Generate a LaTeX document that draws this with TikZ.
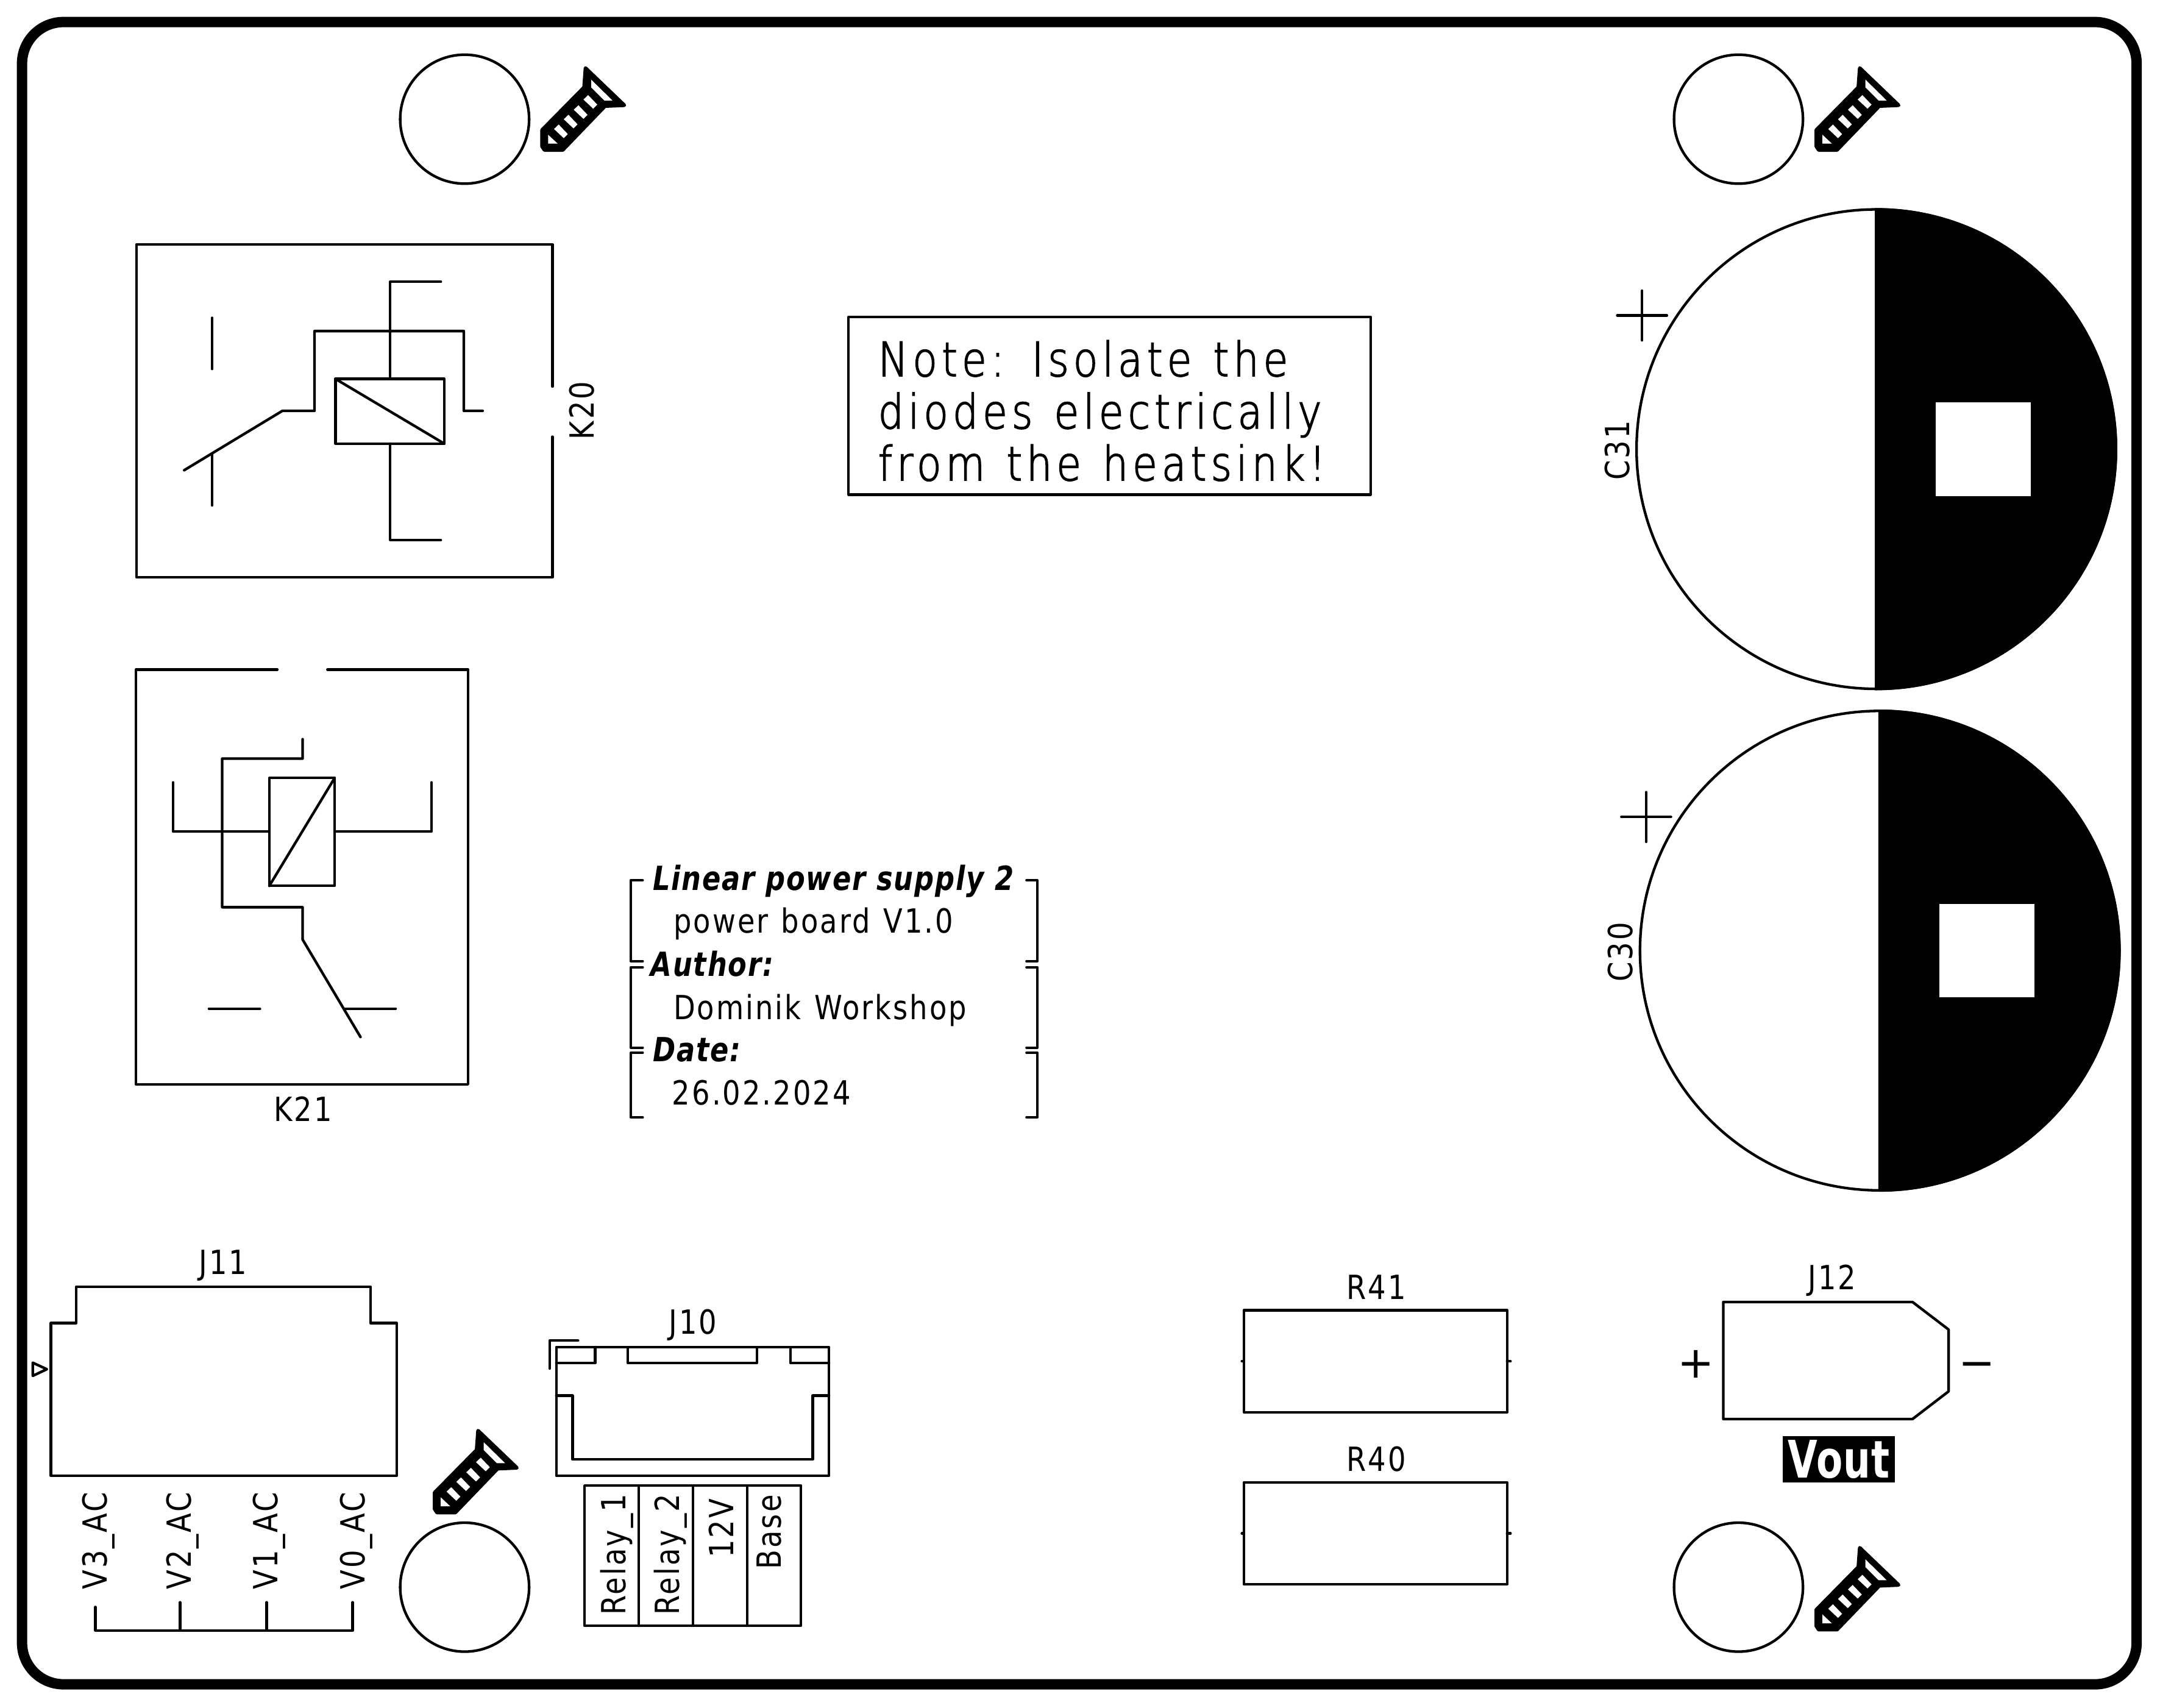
\documentclass[tikz,border=0pt]{standalone}
\usepackage{fontspec}
\newfontfamily\kcreg[FakeStretch=0.85,LetterSpace=5.5,WordSpace=1.2]{DejaVu Sans}
\newfontfamily\kcnote[FakeStretch=0.85,LetterSpace=9.3,WordSpace=1.25,FakeBold=2]{DejaVu Sans ExtraLight}
\newfontfamily\kcbold[FakeStretch=0.82,LetterSpace=3.2,WordSpace=1.05]{DejaVu Sans}
\newfontfamily\kcvout[FakeStretch=0.74,LetterSpace=1.5]{DejaVu Sans}
\newfontfamily\kcsign{DejaVu Sans}
\newcommand{\screwicon}[3]{%
  \begin{scope}[shift={(283.16+#2,26.55+#3)},scale=0.14748]
    \path[screwbody] (962,155) -- (1153,338) -- (1058,342) -- (850,558) -- (760,558) -- (748,540) -- (748,460) -- (955,250) -- cycle;
    \fill[white] (990,212) -- (1095,315) -- (1055,315) -- (990,250) -- cycle;
    \fill[white] (778,483) -- (825,527) -- (778,527) -- cycle;
    \foreach \cx/\cy in {985/320,937/370,888/417,840/465}{
      \fill[white] (\cx-10,\cy-32) -- (\cx+35,\cy+15) -- (\cx+15,\cy+35) -- (\cx-33,\cy-10) -- cycle;
    }
  \end{scope}%
}
\tikzset{
  silk/.style={draw=black,line width=4.3pt,line cap=round,line join=round},
  screwbody/.style={fill=black,draw=black,line width=6pt,line join=round},
  lbl/.style={inner sep=0pt,outer sep=0pt,font=\kcreg\fontsize{54.6}{60}\selectfont},
  blbl/.style={inner sep=0pt,outer sep=0pt,font=\kcbold\fontsize{54.6}{60}\selectfont\bfseries\itshape},
  notelbl/.style={inner sep=0pt,outer sep=0pt,font=\kcnote\fontsize{77.6}{84}\selectfont},
  signlbl/.style={inner sep=0pt,outer sep=0pt,font=\kcsign\fontsize{72}{80}\selectfont},
  vlbl/.style={rotate=90,anchor=base east},
}
\begin{document}
\begin{tikzpicture}[x=2.26020pt,y=-2.26020pt]
\fill[white] (0,0) rectangle (1568,1239.27);
\useasboundingbox (0,0) rectangle (1568,1239.27);
% board outline
\draw[black,line width=17pt,rounded corners=68pt] (16,16) rectangle (1551,1222.5);
% mounting holes
\foreach \hx/\hy in {337.3/86.5,1262/86.5,337.3/1152,1262/1152}{
  \draw[silk] (\hx,\hy) circle (46.8);
}
\screwicon{a}{0}{0}
\screwicon{b}{925}{0}
\screwicon{c}{-78}{989}
\screwicon{d}{925}{1074}
% K20
\draw[silk] (401,280.5) -- (401,177.5) -- (99,177.5) -- (99,419) -- (401,419) -- (401,317);
\draw[silk] (243.5,275) rectangle (322.5,322);
\draw[silk] (243.5,275) -- (322.5,322);
\draw[silk] (320,204.5) -- (283.3,204.5) -- (283.3,275);
\draw[silk] (283.3,322) -- (283.3,392) -- (320,392);
\draw[silk] (133.7,341.3) -- (205,298.2) -- (228.3,298.2) -- (228.3,240.3) -- (336.7,240.3) -- (336.7,298.2) -- (350.4,298.2);
\draw[silk] (154,230.7) -- (154,267.8);
\draw[silk] (154,329.6) -- (154,366.8);
\node[lbl,rotate=90,anchor=base] (k20) at (431,298) {K20};
% K21
\draw[silk] (201.3,486) -- (98.7,486) -- (98.7,787) -- (339.7,787) -- (339.7,486) -- (237.7,486);
\draw[silk] (195.5,564.7) rectangle (242.9,643);
\draw[silk] (195.5,643) -- (242.9,564.7);
\draw[silk] (125.6,567.9) -- (125.6,603.5) -- (195.5,603.5);
\draw[silk] (242.9,603.5) -- (313.2,603.5) -- (313.2,567.9);
\draw[silk] (219.7,536.5) -- (219.7,550.6) -- (161.3,550.6) -- (161.3,658.5) -- (219.7,658.5) -- (219.7,682) -- (261.7,752.7);
\draw[silk] (151.7,732.2) -- (188.7,732.2);
\draw[silk] (250,732.2) -- (287.2,732.2);
\node[lbl,anchor=base] (k21) at (220,814) {K21};
% note
\draw[silk] (616,230) rectangle (995,359);
\node[notelbl,anchor=base west] (note1) at (637.5,273) {Note: Isolate the};
\node[notelbl,anchor=base west] (note2) at (637.5,311) {diodes electrically};
\node[notelbl,anchor=base west] (note3) at (637.5,348.7) {from the heatsink!};
% title block
\draw[silk] (466.5,639) -- (458,639) -- (458,697.7) -- (466.5,697.7);
\draw[silk] (466.5,702.1) -- (458,702.1) -- (458,760.4) -- (466.5,760.4);
\draw[silk] (466.5,764.1) -- (458,764.1) -- (458,811) -- (466.5,811);
\draw[silk] (745.2,639) -- (753,639) -- (753,697.7) -- (745.2,697.7);
\draw[silk] (745.2,702.1) -- (753,702.1) -- (753,760.4) -- (745.2,760.4);
\draw[silk] (745.2,764.1) -- (753,764.1) -- (753,811) -- (745.2,811);
\node[blbl,anchor=base west] (t1) at (474,646.3) {Linear power supply 2};
\node[lbl,anchor=base west] (t2) at (489,677.2) {power board V1.0};
\node[blbl,anchor=base west] (t3) at (472.5,708.6) {Author:};
\node[lbl,anchor=base west] (t4) at (489,739.9) {Dominik Workshop};
\node[blbl,anchor=base west] (t5) at (474,770.7) {Date:};
\node[lbl,anchor=base west] (t6) at (488,802) {26.02.2024};
% capacitors
\draw[silk] (1362,326) circle (174);
\begin{scope}
  \clip (1361,140) rectangle (1560,512);
  \fill[black] (1362,326) circle (175);
\end{scope}
\fill[white] (1405,292) rectangle (1474,360);
\draw[silk] (1174,229) -- (1210,229);
\draw[silk] (1192,211) -- (1192,247);
\node[lbl,rotate=90,anchor=base] (c31) at (1183,327) {C31};
\draw[silk] (1364.5,690) circle (174);
\begin{scope}
  \clip (1363.5,504) rectangle (1560,876);
  \fill[black] (1364.5,690) circle (175);
\end{scope}
\fill[white] (1408,656) rectangle (1477,724);
\draw[silk] (1177,593) -- (1213,593);
\draw[silk] (1195,575) -- (1195,611);
\node[lbl,rotate=90,anchor=base] (c30) at (1185,691) {C30};
% J11
\draw[silk] (37,960.3) -- (55.3,960.3) -- (55.3,934) -- (269,934) -- (269,960.3) -- (288,960.3) -- (288,1071) -- (37,1071) -- cycle;
\draw[silk] (23.8,989.1) -- (34,993.8) -- (23.8,998.6) -- cycle;
\node[lbl,anchor=base] (j11) at (162,925) {J11};
\node[lbl,vlbl] (v3) at (77.6,1083) {V3\_AC};
\node[lbl,vlbl] (v2) at (138.6,1083) {V2\_AC};
\node[lbl,vlbl] (v1) at (201.4,1083) {V1\_AC};
\node[lbl,vlbl] (v0) at (264.9,1083) {V0\_AC};
\draw[silk] (69.3,1166.4) -- (69.3,1183.4) -- (256,1183.4) -- (256,1163);
\draw[silk] (130.7,1163) -- (130.7,1183.4);
\draw[silk] (193.5,1163) -- (193.5,1183.4);
% J10
\draw[silk] (403.8,977.8) rectangle (601.8,1071.2);
\draw[silk] (399,993.3) -- (399,973) -- (419.6,973);
\draw[silk] (403.8,989.3) -- (432.1,989.3) -- (432.1,977.8);
\draw[silk] (455.7,977.8) -- (455.7,989.3) -- (549.4,989.3) -- (549.4,977.8);
\draw[silk] (573.7,977.8) -- (573.7,989.3) -- (601.8,989.3);
\draw[silk] (403.8,1013) -- (415.6,1013) -- (415.6,1059.3) -- (590,1059.3) -- (590,1013) -- (601.8,1013);
\node[lbl,anchor=base] (j10) at (503,968.3) {J10};
\draw[silk] (424.4,1078.3) rectangle (581.4,1180);
\draw[silk] (463.8,1078.3) -- (463.8,1180);
\draw[silk] (503,1078.3) -- (503,1180);
\draw[silk] (542.3,1078.3) -- (542.3,1180);
\node[lbl,vlbl] (p1) at (454.2,1084.5) {Relay\_1};
\node[lbl,vlbl] (p2) at (493.3,1084.5) {Relay\_2};
\node[lbl,vlbl] (p3) at (532.4,1088) {12V};
\node[lbl,vlbl] (p4) at (567,1085) {Base};
% R41 R40
\draw[silk] (903,951) rectangle (1094,1025);
\draw[silk] (901.5,988) -- (903,988);
\draw[silk] (1094,988) -- (1096.5,988);
\node[lbl,anchor=base] (r41) at (999,943) {R41};
\draw[silk] (903,1076) rectangle (1094,1150);
\draw[silk] (901.5,1113) -- (903,1113);
\draw[silk] (1094,1113) -- (1096.5,1113);
\node[lbl,anchor=base] (r40) at (999,1068) {R40};
% J12
\draw[silk] (1251,945) -- (1388.3,945) -- (1414.5,965) -- (1414.5,1009.9) -- (1388.3,1030) -- (1251,1030) -- cycle;
\node[lbl,anchor=base] (j12) at (1330,936) {J12};
\node[signlbl,anchor=base] (plus) at (1231,1000) {+};
\node[signlbl,anchor=base] (minus) at (1435,1000) {−};
\node[fill=black,text=white,inner sep=0pt,minimum width=184pt,minimum height=75.3pt,text height=61pt,text depth=0pt,font=\kcvout\fontsize{85}{90}\selectfont\bfseries] (vout) at (1335,1059.15) {Vout};
\end{tikzpicture}
\end{document}
